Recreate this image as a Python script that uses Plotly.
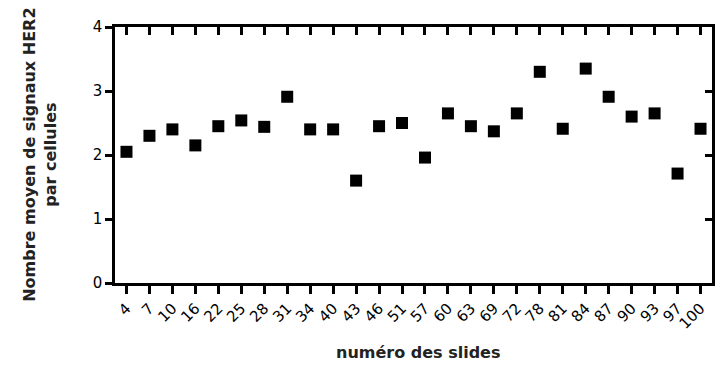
import plotly.graph_objects as go

slides = ["4", "7", "10", "16", "22", "25", "28", "31", "34", "40", "43", "46", "51",
          "57", "60", "63", "69", "72", "78", "81", "84", "87", "90", "93", "97", "100"]
signals = [2.05, 2.30, 2.40, 2.15, 2.45, 2.54, 2.44, 2.91, 2.40, 2.40, 1.60, 2.45, 2.50,
           1.96, 2.65, 2.45, 2.37, 2.65, 3.30, 2.41, 3.35, 2.91, 2.60, 2.65, 1.71, 2.41]
y_ticks = [0, 1, 2, 3, 4]

FONT = "DejaVu Sans, Liberation Sans, Arial, sans-serif"

fig = go.Figure()
fig.add_trace(go.Scatter(
    x=slides, y=signals, mode="markers",
    marker=dict(symbol="square", size=12, color="black"),
    showlegend=False, hoverinfo="x+y",
))
# invisible trace for mirrored axes (inside ticks on top/right)
fig.add_trace(go.Scatter(
    x=slides, y=signals, mode="markers", xaxis="x2", yaxis="y2",
    marker=dict(opacity=0), showlegend=False, hoverinfo="skip",
))

axis_common = dict(showgrid=False, zeroline=False, linecolor="black", linewidth=2.5,
                   tickcolor="black", tickwidth=2.5, automargin=False)

fig.update_layout(
    width=721, height=365,
    margin=dict(l=115, r=9, t=27, b=82),
    paper_bgcolor="white", plot_bgcolor="white",
    font=dict(family=FONT, color="black"),
    xaxis=dict(type="category", categoryarray=slides, categoryorder="array",
               range=[-0.5, 25.5], ticks="outside", ticklen=8, tickangle=-45,
               tickfont=dict(size=15, family=FONT), showline=True, **axis_common),
    yaxis=dict(range=[0, 4], tickvals=y_ticks, ticks="outside", ticklen=7,
               tickfont=dict(size=15, family=FONT), showline=True, **axis_common),
    xaxis2=dict(type="category", categoryarray=slides, categoryorder="array",
                range=[-0.5, 25.5], overlaying="x", side="top", ticks="inside",
                ticklen=8, showticklabels=False, showline=True, **axis_common),
    yaxis2=dict(range=[0, 4], tickvals=y_ticks, overlaying="y", side="right",
                ticks="inside", ticklen=7, showticklabels=False, showline=True,
                **axis_common),
    annotations=[
        dict(text="<b>Nombre moyen de signaux HER2<br>par cellules</b>",
             xref="paper", yref="paper", x=-0.126, y=0.5, textangle=-90,
             showarrow=False, font=dict(size=16, family=FONT, color="#222"),
             xanchor="center", yanchor="middle"),
        dict(text="<b>numéro des slides</b>",
             xref="paper", yref="paper", x=0.508, y=-0.27,
             showarrow=False, font=dict(size=16, family=FONT, color="#222"),
             xanchor="center", yanchor="middle"),
    ],
)

fig.write_html("out.html", config={"displayModeBar": False},
               post_script="document.body.style.margin='0px';document.body.style.padding='0px';")
